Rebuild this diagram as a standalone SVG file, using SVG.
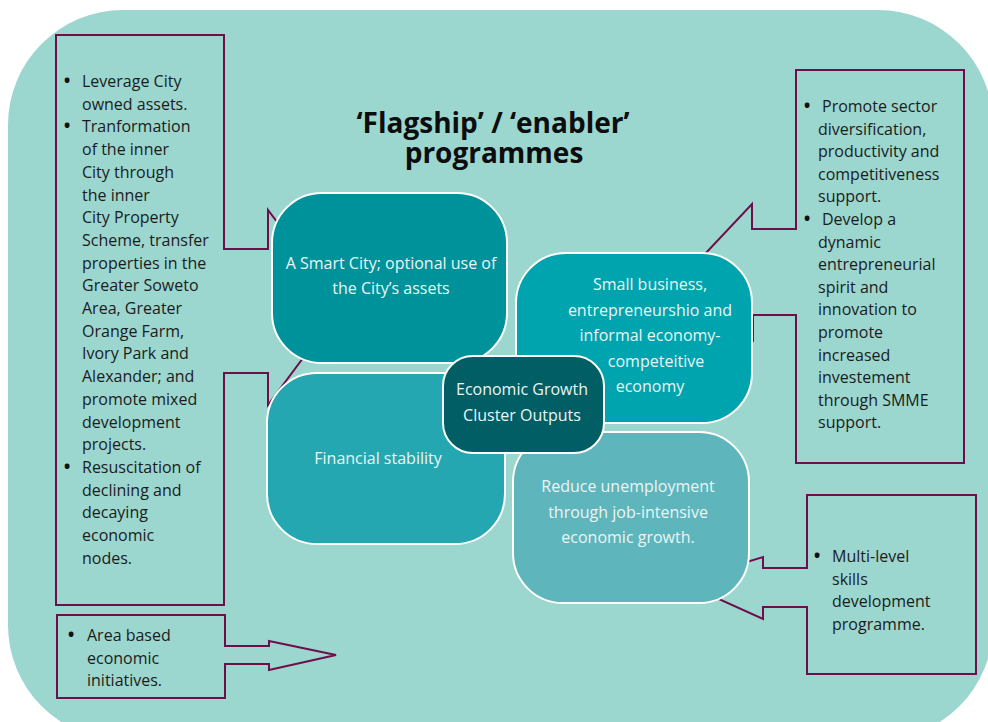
<svg xmlns="http://www.w3.org/2000/svg" width="988" height="722" viewBox="0 0 988 722">
<style>
.bg{fill:#9bd6cf}
.callout{fill:#9bd6cf;stroke:#6e0e4a;stroke-width:2;stroke-linejoin:miter}
.box{stroke:#ffffff;stroke-width:2}
.ct{font-family:"Open Sans","Noto Sans","DejaVu Sans",sans-serif;font-size:16px;fill:#1c1c1c}
.bu{font-family:"Open Sans","Noto Sans","DejaVu Sans",sans-serif;font-size:23px;fill:#111111;text-anchor:middle}
.bt{font-family:"Open Sans","Noto Sans","DejaVu Sans",sans-serif;font-size:16px;fill:#eaf5f5;text-anchor:middle}
.title{font-family:"Open Sans","Noto Sans","DejaVu Sans",sans-serif;font-size:28px;font-weight:bold;fill:#0d0d0d;text-anchor:middle}
</style>
<rect class="bg" x="8" y="10" width="985" height="730" rx="115" ry="115"/>
<g id="connectors"/>
<g id="callout-left">
<path class="callout" d="M56,35 H224 V249 H268 V210 L341,307 L268,405 V373 H224 V605 H56 Z"/>
<text class="bu"><tspan x="67" y="89">•</tspan><tspan x="67" y="134.4">•</tspan><tspan x="67" y="474.9">•</tspan></text>
<text class="ct">
<tspan x="82" y="87">Leverage City</tspan>
<tspan x="82" y="109.7">owned assets.</tspan>
<tspan x="82" y="132.4">Tranformation</tspan>
<tspan x="82" y="155.1">of the inner</tspan>
<tspan x="82" y="177.8">City through</tspan>
<tspan x="82" y="200.5">the inner</tspan>
<tspan x="82" y="223.2">City Property</tspan>
<tspan x="82" y="245.9">Scheme, transfer</tspan>
<tspan x="82" y="268.6">properties in the</tspan>
<tspan x="82" y="291.3">Greater Soweto</tspan>
<tspan x="82" y="314">Area, Greater</tspan>
<tspan x="82" y="336.7">Orange Farm,</tspan>
<tspan x="82" y="359.4">Ivory Park and</tspan>
<tspan x="82" y="382.1">Alexander; and</tspan>
<tspan x="82" y="404.8">promote mixed</tspan>
<tspan x="82" y="427.5">development</tspan>
<tspan x="82" y="450.2">projects.</tspan>
<tspan x="82" y="472.9">Resuscitation of</tspan>
<tspan x="82" y="495.6">declining and</tspan>
<tspan x="82" y="518.3">decaying</tspan>
<tspan x="82" y="541">economic</tspan>
<tspan x="82" y="563.7">nodes.</tspan>
</text>
</g>
<g id="callout-bottom-left">
<path class="callout" d="M57,615 H225 V646 H269 V641 L336,655 L269,670 V664 H225 V698 H57 Z"/>
<text class="bu" x="71" y="643">•</text>
<text class="ct">
<tspan x="87" y="641">Area based</tspan>
<tspan x="87" y="663.7">economic</tspan>
<tspan x="87" y="686.4">initiatives.</tspan>
</text>
</g>
<g id="callout-right-top">
<path class="callout" d="M796,70 H964 V463 H796 V315 H753 V340 L688,272 L752,204 V229 H796 Z"/>
<text class="bu"><tspan x="807" y="114">•</tspan><tspan x="807" y="227">•</tspan></text>
<text class="ct">
<tspan x="822" y="112">Promote sector</tspan>
<tspan x="818" y="134.6">diversification,</tspan>
<tspan x="818" y="157.2">productivity and</tspan>
<tspan x="818" y="179.8">competitiveness</tspan>
<tspan x="818" y="202.4">support.</tspan>
<tspan x="822" y="225">Develop a</tspan>
<tspan x="818" y="247.6">dynamic</tspan>
<tspan x="818" y="270.2">entrepreneurial</tspan>
<tspan x="818" y="292.8">spirit and</tspan>
<tspan x="818" y="315.4">innovation to</tspan>
<tspan x="818" y="338">promote</tspan>
<tspan x="818" y="360.6">increased</tspan>
<tspan x="818" y="383.2">investement</tspan>
<tspan x="818" y="405.8">through SMME</tspan>
<tspan x="818" y="428.4">support.</tspan>
</text>
</g>
<g id="callout-right-bottom">
<path class="callout" d="M807,495 H976 V674 H807 V607 H763 V619 L681,582 L763,557 V568 H807 Z"/>
<text class="bu" x="817" y="564">•</text>
<text class="ct">
<tspan x="832" y="562">Multi-level</tspan>
<tspan x="832" y="584.7">skills</tspan>
<tspan x="832" y="607.4">development</tspan>
<tspan x="832" y="630.1">programme.</tspan>
</text>
</g>
<g id="title">
<text class="title"><tspan x="493" y="133">‘Flagship’ / ‘enabler’</tspan><tspan x="494" y="163">programmes</tspan></text>
</g>
<g id="node-smart-city">
<rect class="box" x="272" y="193" width="235" height="170" rx="50" ry="50" fill="#00929a"/>
<text class="bt"><tspan x="391" y="269">A Smart City; optional use of</tspan><tspan x="391" y="294">the City’s assets</tspan></text>
</g>
<g id="node-financial">
<rect class="box" x="267" y="373" width="238" height="171" rx="50" ry="50" fill="#24a7b0"/>
<text class="bt" x="378" y="464">Financial stability</text>
</g>
<g id="node-small-business">
<rect class="box" x="516" y="253" width="236" height="170" rx="50" ry="50" fill="#00a4ae"/>
<text class="bt"><tspan x="650" y="290">Small business,</tspan><tspan x="650" y="315.5">entrepreneurshio and</tspan><tspan x="650" y="341">informal economy-</tspan><tspan x="656" y="366.5">competeitive</tspan><tspan x="650" y="392">economy</tspan></text>
</g>
<g id="node-unemployment">
<rect class="box" x="513" y="432" width="236" height="171" rx="50" ry="50" fill="#5eb5bb"/>
<text class="bt"><tspan x="628" y="492">Reduce unemployment</tspan><tspan x="628" y="517.5">through job-intensive</tspan><tspan x="628" y="543">economic growth.</tspan></text>
</g>
<g id="node-center">
<rect class="box" x="443" y="356" width="161" height="97" rx="30" ry="30" fill="#005e64"/>
<text class="bt"><tspan x="522" y="395">Economic Growth</tspan><tspan x="522" y="421">Cluster Outputs</tspan></text>
</g>
</svg>
